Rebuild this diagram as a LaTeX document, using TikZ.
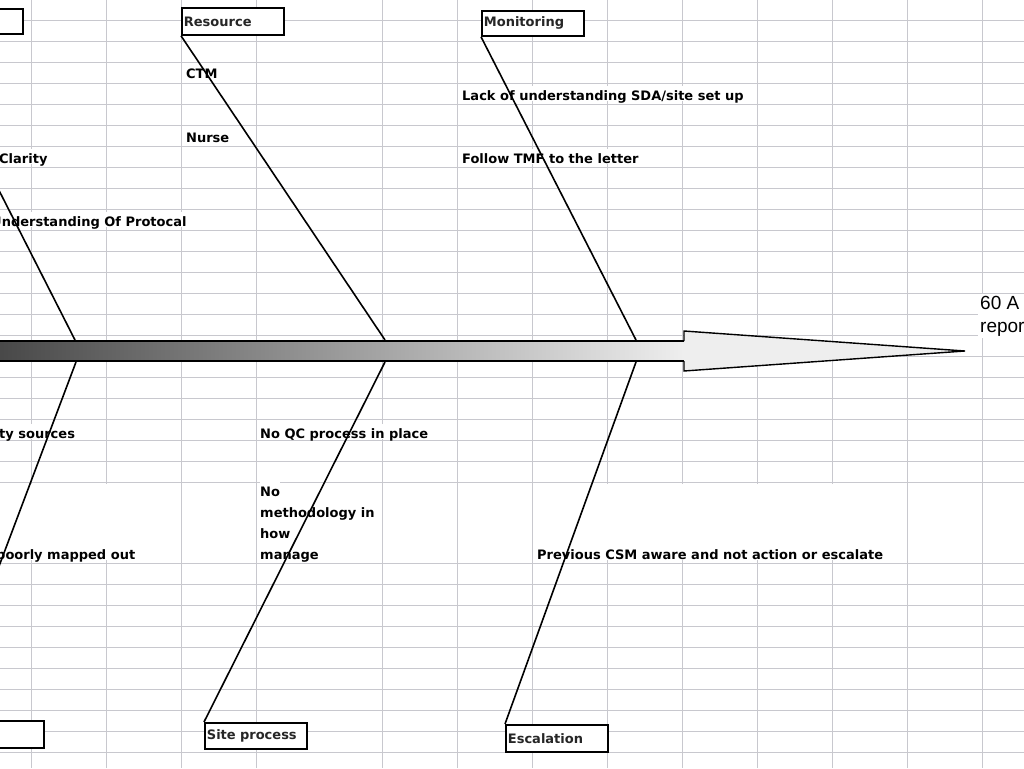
\documentclass[tikz,border=0pt]{standalone}
\usepackage{fontspec}
\setmainfont{Liberation Sans}
\newfontfamily\cellfont{DejaVu Sans}
\definecolor{gridgray}{RGB}{200,200,206}
\definecolor{tubelight}{RGB}{238,238,238}

\begin{document}
\begin{tikzpicture}
  [x=1pt,y=-1pt,every node/.style={inner sep=0pt},
   gridline/.style={draw=gridgray,line width=0.9pt},
   cell/.style={anchor=base west,fill=white,text height=14pt,text depth=1pt,
     font=\cellfont\bfseries\fontsize{13}{21}\selectfont},
   tallcell/.style={cell,text height=75pt},
   cause/.style={anchor=north west,draw,line width=1.8pt,fill=white,text width=98pt,
     inner xsep=2pt,align=left,text=black!85,font=\cellfont\bfseries\fontsize{13}{15}\selectfont},
   bone/.style={line width=1.6pt}]
  \useasboundingbox (0,0) rectangle (1024,768);
  \clip (0,0) rectangle (1024,768);

  % sheet grid
  \foreach \x in {31,106,181,256,382,457,532,607,682,757,832,907,982}
    \draw[gridline] (\x,0) -- (\x,768);
  \foreach \y in {20,41,...,482,563,584,...,752}
    \draw[gridline] (0,\y) -- (1024,\y);

  % causes
  \node[cell] (ctm) at (186,78) {CTM};
  \node[cell] (nurse) at (186,142) {Nurse};
  \node[cell] (clarity) at (-1,163) {Clarity};
  \node[cell] (protocal) at (-9,226) {Understanding Of Protocal};
  \node[cell] (sda) at (462,100) {Lack of understanding SDA/site set up};
  \node[cell] (tmf) at (462,163) {Follow TMF to the letter};
  \node[cell] (sources) at (-1,438) {ty sources};
  \node[cell] (qc) at (260,438) {No QC process in place};
  \foreach \t [count=\i] in {No,methodology in,how,manage}
    \node[cell] (meth\i) at (260,475+21*\i) {\t};
  \node[tallcell] (mapped) at (-4,559) {poorly mapped out};
  \node[tallcell] (prev) at (537,559) {Previous CSM aware and not action or escalate};

  % spine
  \shade[left color=black!72,right color=tubelight] (-5,341) rectangle (684,361);
  \draw[line width=1.5pt] (-5,341) -- (684,341) (-5,361) -- (684,361);
  \draw[line width=1.4pt,fill=tubelight] (684,341) -- (684,331) -- (965,351) coordinate (tip)
    -- (684,371) -- (684,361);
  \coordinate (j1t) at (75,340);
  \coordinate (j2t) at (385,340);
  \coordinate (j3t) at (636,340);
  \coordinate (j1b) at (76,362);
  \coordinate (j2b) at (385,362);
  \coordinate (j3b) at (636,362);

  \node[anchor=north west,fill=white,inner sep=2pt,align=left,
    font=\fontsize{19}{23}\selectfont] (effect) at (978,294) {60 A\\repor};

  % categories
  \node[cause,minimum height=25pt] (leftup) at (-80,8) {};
  \node[cause,minimum height=27pt] (res) at (181,7) {Resource};
  \node[cause,minimum height=25pt] (mon) at (481,10) {Monitoring};
  \node[cause,minimum height=27pt] (leftdown) at (-59,720) {};
  \node[cause,minimum height=26pt] (site) at (204,722) {Site process};
  \node[cause,minimum height=27pt] (esc) at (505,724) {Escalation};

  \foreach \from/\to in {leftup/j1t,res/j2t,mon/j3t}
    \draw[bone] (\from.south west) -- (\to);
  \foreach \from/\to in {j1b/leftdown,j2b/site,j3b/esc}
    \draw[bone] (\from) -- (\to.north west);

\end{tikzpicture}
\end{document}
